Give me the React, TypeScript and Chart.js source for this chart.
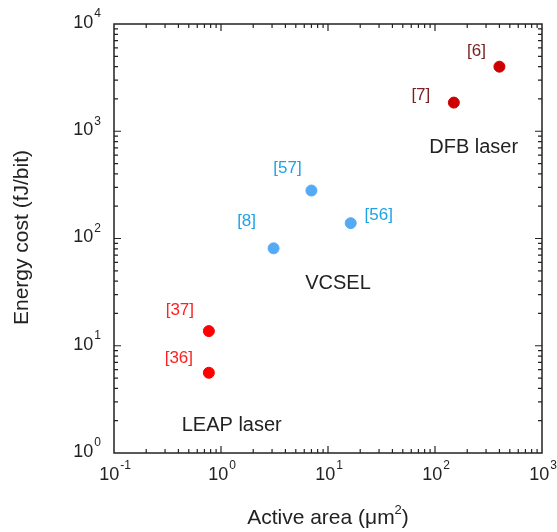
import React, { useEffect, useRef } from "react";
import { Chart, registerables } from "chart.js";

Chart.register(...registerables);

// Device data: active area (µm²) vs energy cost (fJ/bit)
const dfbArea = [400, 150];
const dfbEnergy = [4000, 1850];
const dfbRefs = ["[6]", "[7]"];

const vcselArea = [3.1, 7.0, 16.3];
const vcselEnergy = [81, 280, 139];
const vcselRefs = ["[8]", "[57]", "[56]"];

const leapArea = [0.77, 0.77];
const leapEnergy = [13.7, 5.6];
const leapRefs = ["[37]", "[36]"];

// Group names and their anchor points in data units
const groupNames = ["DFB laser", "VCSEL", "LEAP laser"];
const groupAnchorX = [230, 12.4, 1.26];
const groupAnchorY = [713, 37.7, 1.79];

// Axis decades
const xExponents = [-1, 0, 1, 2, 3];
const yExponents = [0, 1, 2, 3, 4];

// Pixel offsets of each reference tag from its point
const dfbRefOffsets = [[-23, -15], [-33, -7]];
const vcselRefOffsets = [[-27, -27], [-24, -22], [28, -8]];
const leapRefOffsets = [[-29, -21], [-30, -14]];

const FONT = "'Liberation Sans', Arial, sans-serif";
const AXIS_COLOR = "#222";

const colors = {
  dfbPoint: "#cc0000",
  dfbText: "#7a2222",
  vcselPoint: "#55aaf5",
  vcselText: "#1ea2e6",
  leapPoint: "#ff0000",
  leapText: "#ff2020",
};

const toPoints = (xs: number[], ys: number[]) => xs.map((x, i) => ({ x, y: ys[i] }));

function drawPower(
  ctx: CanvasRenderingContext2D,
  exp: number,
  x: number,
  y: number,
  align: "center" | "right"
) {
  const base = "10";
  const sup = String(exp);
  ctx.font = `18px ${FONT}`;
  const wb = ctx.measureText(base).width;
  ctx.font = `12px ${FONT}`;
  const ws = ctx.measureText(sup).width;
  const total = wb + ws + 1;
  const left = align === "center" ? x - total / 2 : x - total;
  ctx.textAlign = "left";
  ctx.textBaseline = "middle";
  ctx.fillStyle = AXIS_COLOR;
  ctx.font = `18px ${FONT}`;
  ctx.fillText(base, left, y);
  ctx.font = `12px ${FONT}`;
  ctx.fillText(sup, left + wb + 1, y - 9);
}

const frame = {
  id: "frame",
  afterDatasetsDraw(chart: any) {
    const { ctx, chartArea: a, scales } = chart;
    const xs = scales.x;
    const ys = scales.y;
    ctx.save();

    // Box
    ctx.strokeStyle = AXIS_COLOR;
    ctx.lineWidth = 1.5;
    ctx.strokeRect(a.left, a.top, a.right - a.left, a.bottom - a.top);

    // Inward ticks on all four sides
    ctx.lineWidth = 1.2;
    ctx.beginPath();
    for (let d = xExponents[0]; d < xExponents[xExponents.length - 1]; d++) {
      for (let m = 1; m <= 9; m++) {
        if (m === 1 && d === xExponents[0]) continue;
        const px = xs.getPixelForValue(m * Math.pow(10, d));
        const len = m === 1 ? 7 : 4;
        ctx.moveTo(px, a.bottom);
        ctx.lineTo(px, a.bottom - len);
        ctx.moveTo(px, a.top);
        ctx.lineTo(px, a.top + len);
      }
    }
    for (let d = yExponents[0]; d < yExponents[yExponents.length - 1]; d++) {
      for (let m = 1; m <= 9; m++) {
        if (m === 1 && d === yExponents[0]) continue;
        const py = ys.getPixelForValue(m * Math.pow(10, d));
        const len = m === 1 ? 7 : 4;
        ctx.moveTo(a.left, py);
        ctx.lineTo(a.left + len, py);
        ctx.moveTo(a.right, py);
        ctx.lineTo(a.right - len, py);
      }
    }
    ctx.stroke();

    // Tick labels
    xExponents.forEach((e) => {
      drawPower(ctx, e, xs.getPixelForValue(Math.pow(10, e)) + 1, a.bottom + 22, "center");
    });
    yExponents.forEach((e) => {
      drawPower(ctx, e, a.left - 13, ys.getPixelForValue(Math.pow(10, e)) - 1, "right");
    });

    // Axis titles
    ctx.fillStyle = AXIS_COLOR;
    ctx.textBaseline = "middle";
    ctx.textAlign = "left";
    const xt1 = "Active area (\u03bcm";
    const xt2 = ")";
    ctx.font = `21px ${FONT}`;
    const w1 = ctx.measureText(xt1).width;
    const w3 = ctx.measureText(xt2).width;
    ctx.font = `13px ${FONT}`;
    const w2 = ctx.measureText("2").width;
    const tot = w1 + w2 + w3;
    const cx = (a.left + a.right) / 2;
    const ty = a.bottom + 65;
    const lx = cx - tot / 2;
    ctx.font = `21px ${FONT}`;
    ctx.fillText(xt1, lx, ty);
    ctx.font = `13px ${FONT}`;
    ctx.fillText("2", lx + w1, ty - 8);
    ctx.font = `21px ${FONT}`;
    ctx.fillText(xt2, lx + w1 + w2, ty);

    ctx.save();
    ctx.translate(22, (a.top + a.bottom) / 2 - 1);
    ctx.rotate(-Math.PI / 2);
    ctx.textAlign = "center";
    ctx.font = `21px ${FONT}`;
    ctx.fillText("Energy cost (fJ/bit)", 0, 0);
    ctx.restore();

    // Reference tags next to points
    const tag = (xv: number[], yv: number[], refs: string[], offs: number[][], color: string) => {
      ctx.fillStyle = color;
      ctx.font = `17px ${FONT}`;
      ctx.textAlign = "center";
      ctx.textBaseline = "middle";
      refs.forEach((r, i) => {
        const px = xs.getPixelForValue(xv[i]) + offs[i][0];
        const py = ys.getPixelForValue(yv[i]) + offs[i][1];
        ctx.fillText(r, px, py);
      });
    };
    tag(dfbArea, dfbEnergy, dfbRefs, dfbRefOffsets, colors.dfbText);
    tag(vcselArea, vcselEnergy, vcselRefs, vcselRefOffsets, colors.vcselText);
    tag(leapArea, leapEnergy, leapRefs, leapRefOffsets, colors.leapText);

    // Group names
    ctx.fillStyle = AXIS_COLOR;
    ctx.font = `20px ${FONT}`;
    groupNames.forEach((n, i) => {
      ctx.fillText(n, xs.getPixelForValue(groupAnchorX[i]), ys.getPixelForValue(groupAnchorY[i]));
    });

    ctx.restore();
  },
};

export default function App() {
  const ref = useRef<HTMLCanvasElement | null>(null);

  useEffect(() => {
    if (!ref.current) return;
    const chart = new Chart(ref.current, {
      type: "scatter",
      data: {
        datasets: [
          {
            label: "DFB laser",
            data: toPoints(dfbArea, dfbEnergy),
            backgroundColor: colors.dfbPoint,
            borderColor: colors.dfbPoint,
            pointRadius: 5.5,
          },
          {
            label: "VCSEL",
            data: toPoints(vcselArea, vcselEnergy),
            backgroundColor: colors.vcselPoint,
            borderColor: colors.vcselPoint,
            pointRadius: 5.5,
          },
          {
            label: "LEAP laser",
            data: toPoints(leapArea, leapEnergy),
            backgroundColor: colors.leapPoint,
            borderColor: colors.leapPoint,
            pointRadius: 5.5,
          },
        ],
      },
      options: {
        responsive: false,
        animation: false,
        devicePixelRatio: 1,
        layout: { padding: { left: 114, right: 15, top: 24, bottom: 79 } },
        plugins: { legend: { display: false }, tooltip: { enabled: false } },
        scales: {
          x: { type: "logarithmic", min: 0.1, max: 1000, display: false },
          y: { type: "logarithmic", min: 1, max: 10000, display: false },
        },
      },
      plugins: [frame],
    });
    return () => chart.destroy();
  }, []);

  return (
    <div style={{ position: "absolute", left: 0, top: 0, width: 557, height: 532, background: "#fff" }}>
      <canvas ref={ref} width={557} height={532} />
    </div>
  );
}
